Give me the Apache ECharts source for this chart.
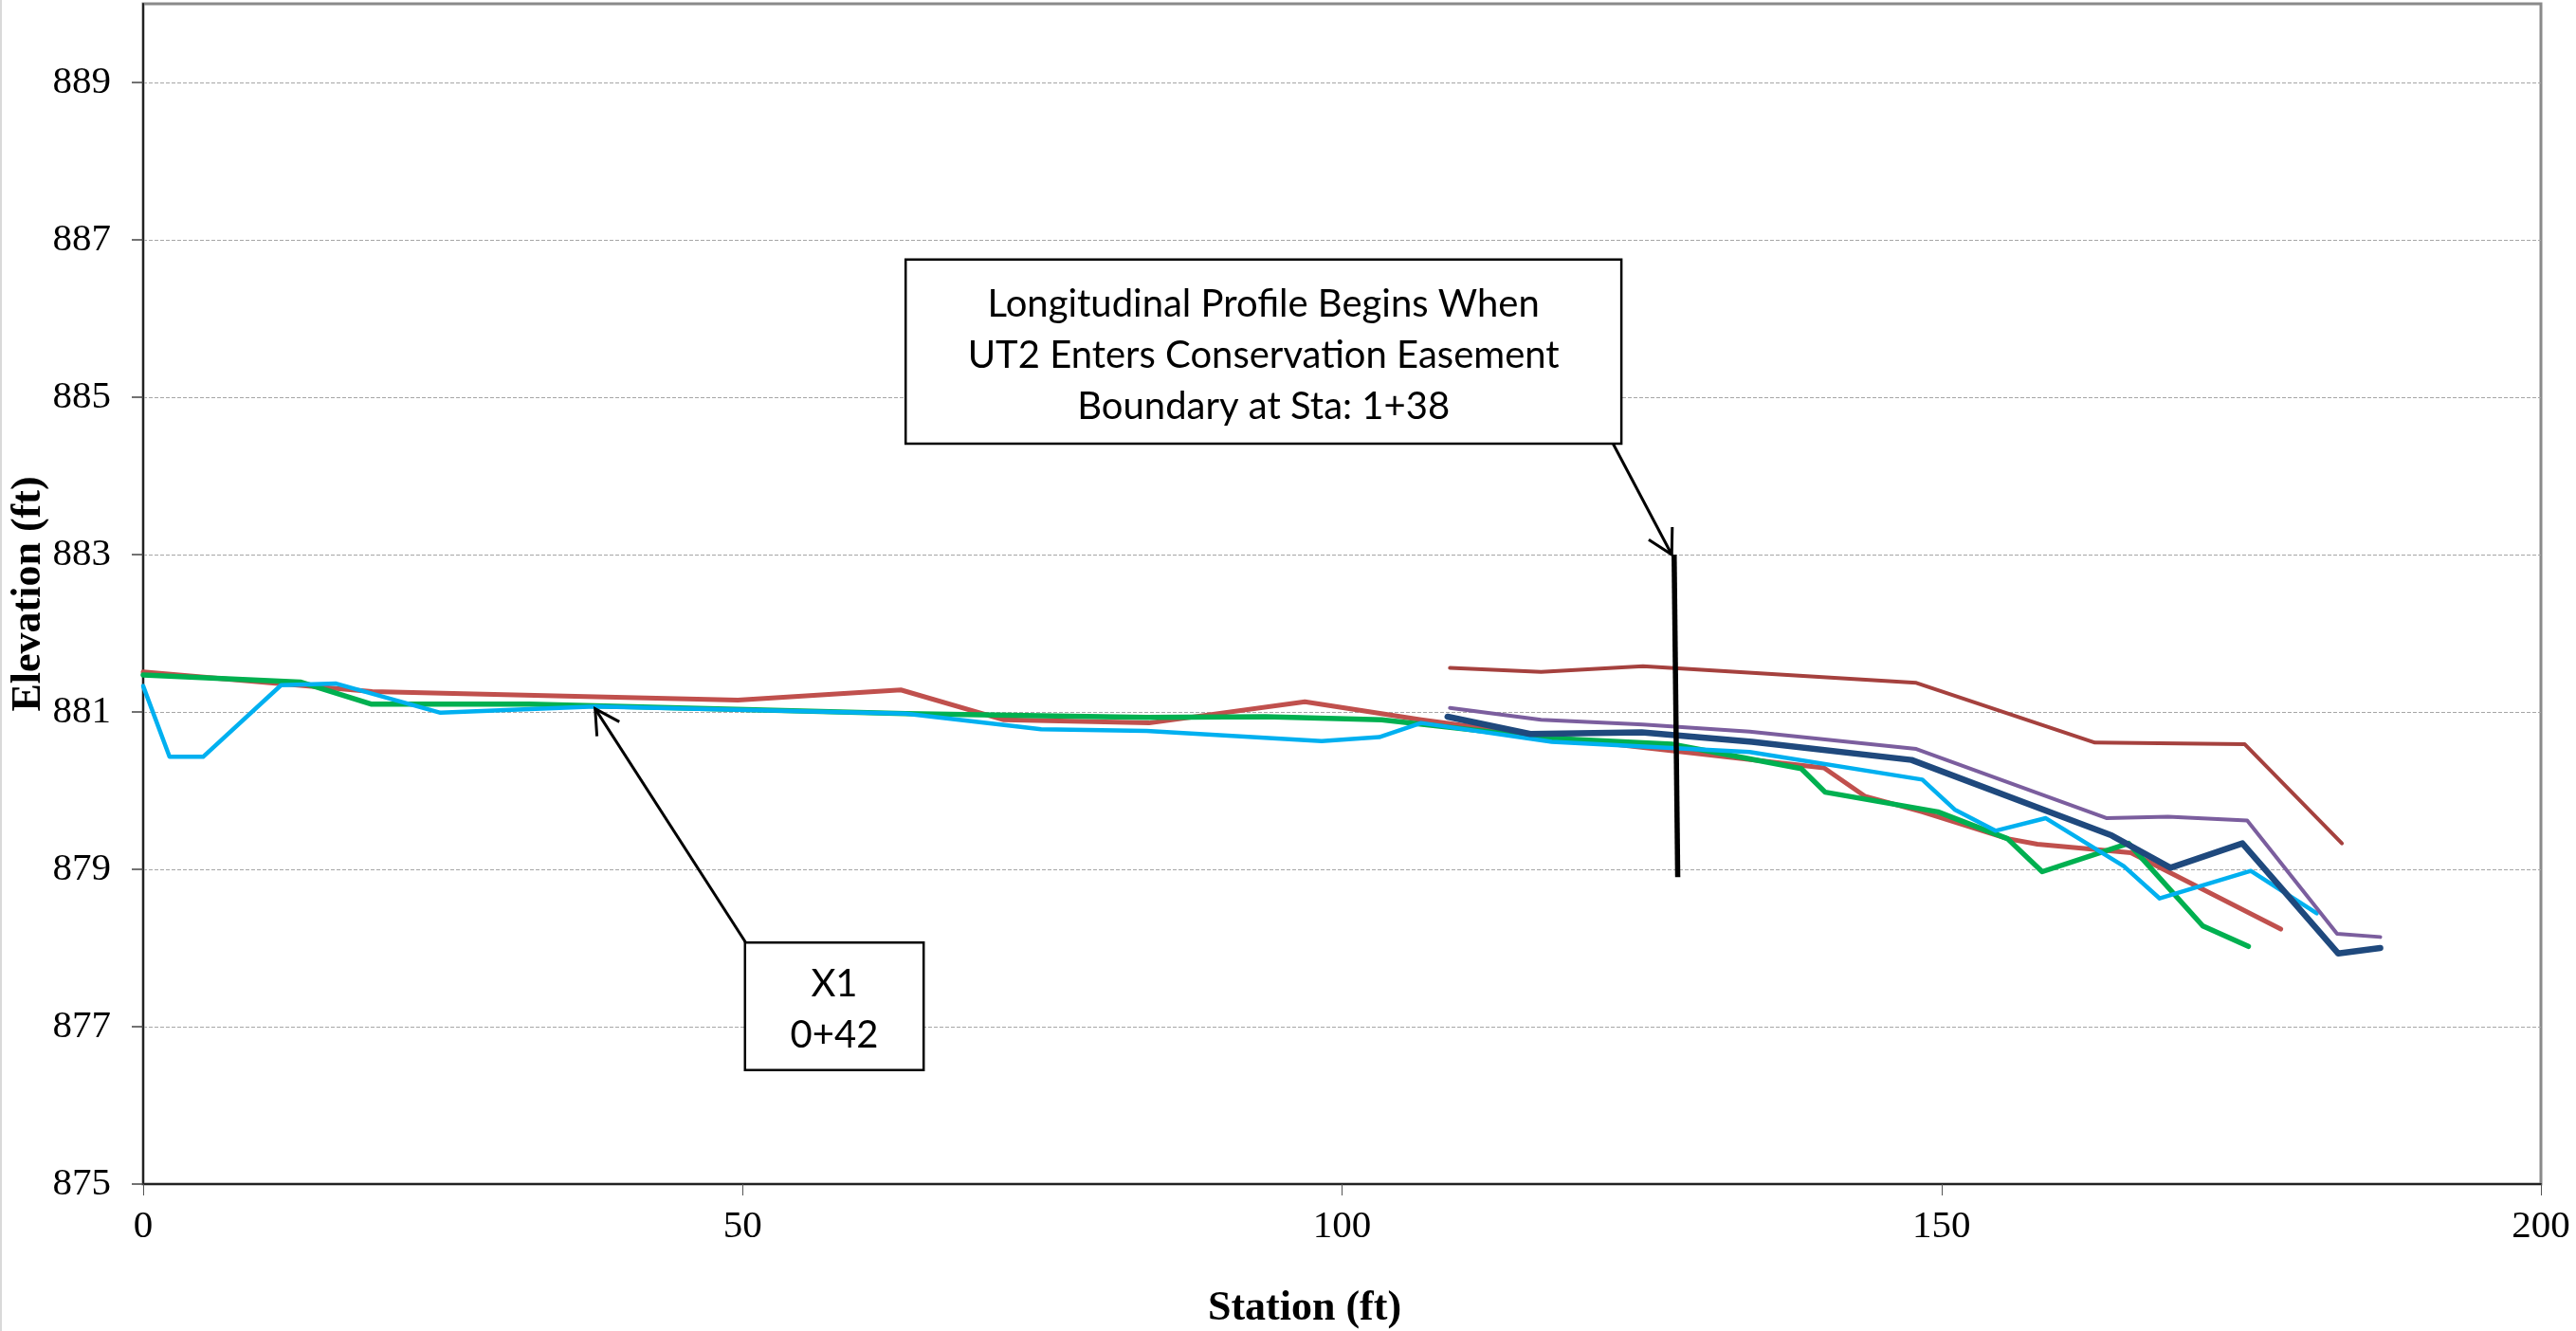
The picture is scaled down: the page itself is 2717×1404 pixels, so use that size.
<!DOCTYPE html>
<html><head><meta charset="utf-8">
<script src="https://cdn.jsdelivr.net/npm/echarts@6/dist/echarts.min.js"></script>
<style>html,body{margin:0;padding:0;background:#fff}#c{width:2717px;height:1404px}</style>
</head><body><div id="c"></div>
<script>
// ---- data ----
const xTickValues = [0, 50, 100, 150, 200];
const yTickValues = [875, 877, 879, 881, 883, 885, 887, 889];

const redStation = [0, 19.1, 49.6, 63.2, 71.8, 83.9, 96.9, 106.6, 116.9, 140.2, 143.6, 148.4, 155.5, 158.0, 165.8, 178.3];
const redElev    = [881.51, 881.26, 881.15, 881.28, 880.90, 880.86, 881.13, 880.90, 880.69, 880.29, 879.93, 879.73, 879.39, 879.32, 879.21, 878.24];

const greenStation = [0, 13.1, 19.0, 32.2, 63.6, 83.7, 93.6, 103.3, 116.9, 127.5, 138.3, 140.3, 149.7, 155.5, 158.4, 165.6, 171.8, 175.6];
const greenElev    = [881.47, 881.38, 881.10, 881.10, 880.98, 880.93, 880.94, 880.90, 880.67, 880.59, 880.28, 879.98, 879.73, 879.39, 878.97, 879.33, 878.28, 878.02];

const cyanStation = [0, 2.2, 5.0, 11.5, 16.1, 24.8, 37.7, 63.6, 74.9, 83.7, 98.3, 103.1, 106.6, 117.5, 134.0, 148.4, 151.1, 154.5, 158.7, 165.2, 168.2, 175.8, 181.3];
const cyanElev    = [881.33, 880.43, 880.43, 881.34, 881.36, 880.99, 881.07, 880.98, 880.78, 880.76, 880.63, 880.68, 880.86, 880.62, 880.49, 880.14, 879.76, 879.49, 879.65, 879.04, 878.63, 878.98, 878.44];

const upperRedStation = [109.0, 116.6, 125.1, 147.9, 162.8, 175.3, 183.4];
const upperRedElev    = [881.56, 881.51, 881.58, 881.37, 880.61, 880.59, 879.33];

const purpleStation = [109.0, 116.6, 125.1, 134.0, 147.9, 163.8, 168.9, 175.5, 183.0, 186.6];
const purpleElev    = [881.05, 880.90, 880.84, 880.75, 880.53, 879.65, 879.67, 879.62, 878.18, 878.14];

const navyStation = [108.8, 115.7, 125.0, 134.2, 147.5, 164.2, 169.1, 175.1, 183.1, 186.6];
const navyElev    = [880.94, 880.72, 880.74, 880.62, 880.39, 879.43, 879.02, 879.33, 877.93, 878.00];

const boundaryStation = [127.7, 128.0];
const boundaryElev    = [883.0, 878.9];

const noteMainText = ['Longitudinal Profile Begins When', 'UT2 Enters Conservation Easement', 'Boundary at Sta: 1+38'];
const noteX1Text = ['X1', '0+42'];

// ---- build ----
const zip = (a, b) => a.map((v, i) => [v, b[i]]);
const serif = 'Liberation Serif, Times New Roman, serif';

function lineSeries(name, st, el, color, width, z) {
  return {
    name, type: 'line', data: zip(st, el), showSymbol: false, symbol: 'none',
    lineStyle: { color, width, cap: 'round', join: 'round' }, z, animation: false
  };
}

const option = {
  animation: false,
  backgroundColor: '#ffffff',
  grid: { left: 151, right: 37, top: 4, bottom: 155, containLabel: false, outerBoundsMode: 'none',
          show: true, borderColor: '#8a8a8a', borderWidth: 3, backgroundColor: 'transparent' },
  xAxis: {
    type: 'value', min: 0, max: 200, interval: 50,
    name: 'Station (ft)', nameLocation: 'middle', nameGap: 110,
    nameTextStyle: { fontFamily: serif, fontWeight: 'bold', fontSize: 44, color: '#000', padding: [0, 79, 0, 0] },
    axisLine: { show: true, onZero: false, lineStyle: { color: '#222', width: 2 } },
    axisTick: { show: true, inside: false, length: 12, lineStyle: { color: '#555', width: 1 } },
    axisLabel: { fontFamily: serif, fontSize: 41, color: '#000', margin: 25, customValues: xTickValues },
    splitLine: { show: false }
  },
  yAxis: {
    type: 'value', min: 875, max: 890,
    name: 'Elevation (ft)', nameLocation: 'middle', nameGap: 98, nameRotate: 90, nameMoveOverlap: false,
    nameTextStyle: { fontFamily: serif, fontWeight: 'bold', fontSize: 44, color: '#000' },
    axisLine: { show: true, onZero: false, lineStyle: { color: '#222', width: 2 } },
    axisTick: { show: true, inside: false, length: 12, lineStyle: { color: '#444', width: 1.5 }, customValues: yTickValues },
    axisLabel: { fontFamily: serif, fontSize: 41, color: '#000', margin: 34, customValues: yTickValues },
    splitLine: { show: true, lineStyle: { color: '#a6a6a6', width: 1, type: [4, 2] } }
  },
  series: [
    lineSeries('Profile (red)', redStation, redElev, '#C0504D', 5, 2),
    lineSeries('Profile (green)', greenStation, greenElev, '#00B050', 5.5, 3),
    lineSeries('Profile (cyan)', cyanStation, cyanElev, '#00B0F0', 4.5, 4),
    lineSeries('Profile (dark red)', upperRedStation, upperRedElev, '#A5413E', 4, 5),
    lineSeries('Profile (purple)', purpleStation, purpleElev, '#7B5E9E', 4, 6),
    lineSeries('Profile (dark blue)', navyStation, navyElev, '#1F497D', 6.5, 7),
    {
      name: 'Easement boundary', type: 'line', data: zip(boundaryStation, boundaryElev),
      showSymbol: false, symbol: 'none', lineStyle: { color: '#000', width: 5.5, cap: 'butt' }, z: 9
    }
  ]
};

const chart = echarts.init(document.getElementById('c'), null, { renderer: 'canvas' });
chart.setOption(option);

// annotation anchors in data space
const P = p => chart.convertToPixel({ gridIndex: 0 }, p);
const mainBoxTL = P([63.6, 886.75]), mainBoxBR = P([123.3, 884.41]);
const x1BoxTL = P([50.2, 878.07]), x1BoxBR = P([65.1, 876.45]);
const arrow1Tail = P([122.5, 884.44]), arrow1Tip = P([127.5, 883.0]);
const arrow2Tail = P([50.3, 878.06]), arrow2Tip = P([37.7, 881.04]);

function arrowHead(tail, tip, len, deg) {
  const dx = tail[0] - tip[0], dy = tail[1] - tip[1];
  const d = Math.hypot(dx, dy); const ux = dx / d, uy = dy / d;
  const a = deg * Math.PI / 180;
  const r = (c, s) => [tip[0] + len * (ux * c - uy * s), tip[1] + len * (ux * s + uy * c)];
  return [r(Math.cos(a), Math.sin(a)), tip, r(Math.cos(-a), Math.sin(-a))];
}
function box(tl, br, lines) {
  return [
    { type: 'rect', z: 20, shape: { x: tl[0], y: tl[1], width: br[0] - tl[0], height: br[1] - tl[1] },
      style: { fill: '#fff', stroke: '#000', lineWidth: 2.5 } },
    { type: 'text', z: 21, style: { text: lines.join('\n'), x: (tl[0] + br[0]) / 2, y: (tl[1] + br[1]) / 2 + 4,
      align: 'center', verticalAlign: 'middle', fontFamily: 'Lato, Carlito, Calibri, sans-serif', fontSize: 40, lineHeight: 54, fill: '#000' } }
  ];
}
function arrow(tail, tip) {
  return [
    { type: 'line', z: 19, shape: { x1: tail[0], y1: tail[1], x2: tip[0], y2: tip[1] }, style: { stroke: '#000', lineWidth: 3 } },
    { type: 'polyline', z: 19, shape: { points: arrowHead(tail, tip, 29, 29) }, style: { stroke: '#000', lineWidth: 3, fill: null } }
  ];
}

chart.setOption({
  graphic: [
    { type: 'line', z: 30, shape: { x1: 1, y1: 0, x2: 1, y2: 1404 }, style: { stroke: '#d9d9d9', lineWidth: 2 } },
    ...arrow(arrow1Tail, arrow1Tip),
    ...arrow(arrow2Tail, arrow2Tip),
    ...box(mainBoxTL, mainBoxBR, noteMainText),
    ...box(x1BoxTL, x1BoxBR, noteX1Text)
  ]
});
</script></body></html>
